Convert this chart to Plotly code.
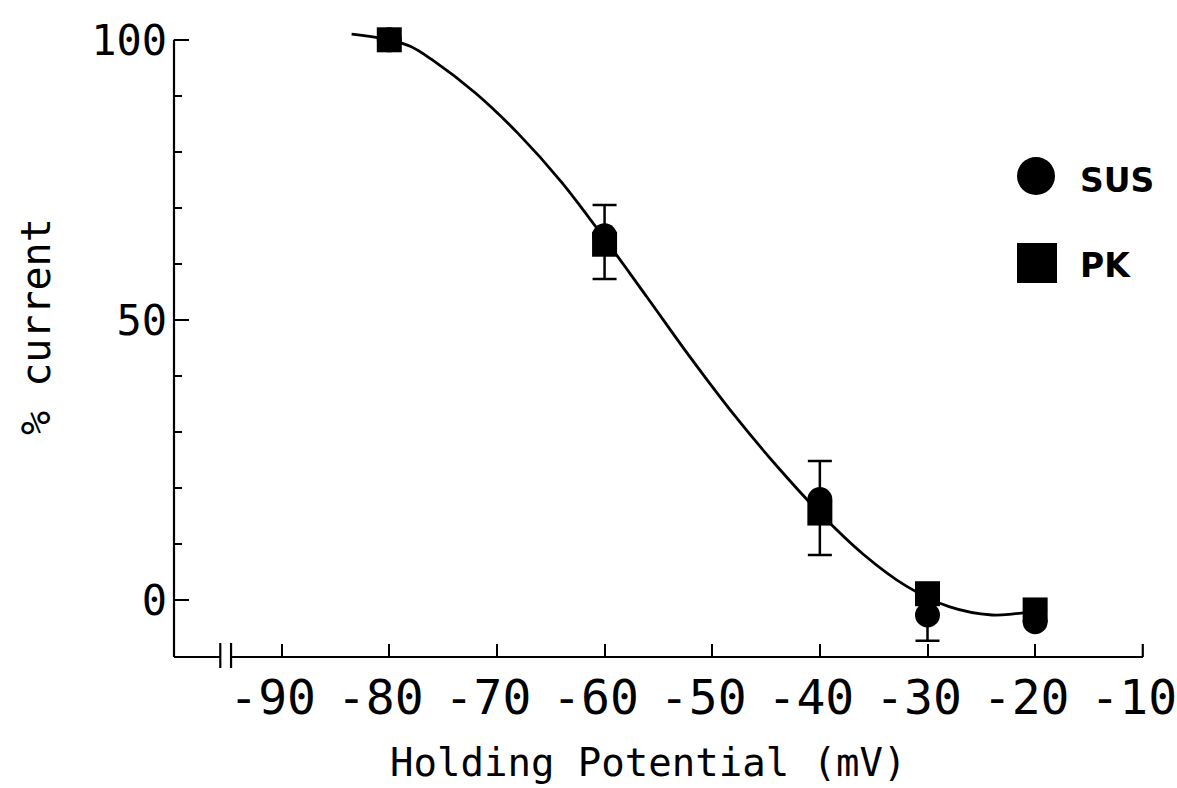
import plotly.graph_objects as go

# ---------------- data ----------------
voltage = [-80, -60, -40, -30, -20]
sus_current = [100.0, 65.0, 17.9, -2.7, -3.9]
sus_err = [0, 0, 0, 4.6, 0]
pk_current = [100.0, 63.5, 15.5, 1.1, -1.8]
pk_err_plus = [0, 7.0, 9.3, 0, 0]
pk_err_minus = [0, 6.2, 7.5, 0, 0]

fit_v = [-83.5, -80, -78, -76, -72, -68, -64, -60, -56, -52, -48, -44, -40,
         -36, -32, -28, -24, -22, -20.3]
fit_i = [101.0, 100.0, 98.8, 96.4, 90.5, 83.2, 74.6, 64.5, 53.9, 43.2, 33.1, 23.9, 15.5,
         8.2, 2.5, -1.2, -2.7, -2.5, -2.1]

x_ticks = [-90, -80, -70, -60, -50, -40, -30, -20, -10]
y_major = [0, 50, 100]
y_minor = [10, 20, 30, 40, 60, 70, 80, 90]

X_RANGE = [-100, -9.98]
Y_RANGE = [-10.2, 103]
Y_AXIS_TOP = 100
BREAK_AT = [-95.7, -94.7]

FONT_MONO = "DejaVu Sans Mono"

fig = go.Figure()

fig.add_trace(go.Scatter(x=fit_v, y=fit_i, mode="lines",
                         line=dict(color="black", width=2.8, shape="spline", smoothing=1.0),
                         hoverinfo="skip", showlegend=False))

fig.add_trace(go.Scatter(x=voltage, y=sus_current, mode="markers", name="SUS",
                         marker=dict(symbol="circle", size=25, color="black"),
                         error_y=dict(type="data", array=sus_err, color="black",
                                      thickness=2.5, width=12),
                         cliponaxis=False, showlegend=False))

fig.add_trace(go.Scatter(x=voltage, y=pk_current, mode="markers", name="PK",
                         marker=dict(symbol="square", size=25, color="black"),
                         error_y=dict(type="data", symmetric=False, array=pk_err_plus,
                                      arrayminus=pk_err_minus, color="black",
                                      thickness=2.5, width=12),
                         cliponaxis=False, showlegend=False))

L, R, T, B = 174, 34, 23, 131
W, H = 1177, 788
pw, ph = W - L - R, H - T - B


def px_x(p):
    return (p - L) / pw


def px_y(p):
    return (H - B - p) / ph


def data_x(v):
    return (v - X_RANGE[0]) / (X_RANGE[1] - X_RANGE[0])


def data_y(v):
    return (v - Y_RANGE[0]) / (Y_RANGE[1] - Y_RANGE[0])


shapes = []
line_style = dict(color="black", width=2.2)
# x axis line with break
shapes.append(dict(type="line", xref="paper", yref="paper", x0=0, x1=data_x(BREAK_AT[0]),
                   y0=0, y1=0, line=line_style))
shapes.append(dict(type="line", xref="paper", yref="paper", x0=data_x(BREAK_AT[1]), x1=1,
                   y0=0, y1=0, line=line_style))
for b in BREAK_AT:
    shapes.append(dict(type="line", xref="paper", yref="paper", x0=data_x(b), x1=data_x(b),
                       y0=-11 / ph, y1=14 / ph, line=line_style))
# last x tick at the right end of the axis
shapes.append(dict(type="line", xref="paper", yref="paper",
                   x0=data_x(x_ticks[-1]), x1=data_x(x_ticks[-1]),
                   y0=0, y1=13 / ph, line=line_style))
# y axis line
shapes.append(dict(type="line", xref="paper", yref="paper", x0=0, x1=0,
                   y0=0, y1=data_y(Y_AXIS_TOP), line=line_style))
# legend symbols
shapes.append(dict(type="circle", xref="paper", yref="paper",
                   x0=px_x(1017), x1=px_x(1055), y0=px_y(195), y1=px_y(157),
                   fillcolor="black", line=dict(color="black", width=0)))
shapes.append(dict(type="rect", xref="paper", yref="paper",
                   x0=px_x(1017), x1=px_x(1057), y0=px_y(283), y1=px_y(243),
                   fillcolor="black", line=dict(color="black", width=0)))

annotations = [
    dict(text="SUS", xref="paper", yref="paper", x=px_x(1078), y=px_y(180),
         xanchor="left", yanchor="middle", showarrow=False,
         font=dict(family="DejaVu Sans", size=33, color="black", weight="bold")),
    dict(text="PK", xref="paper", yref="paper", x=px_x(1078), y=px_y(265),
         xanchor="left", yanchor="middle", showarrow=False,
         font=dict(family="DejaVu Sans", size=33, color="black", weight="bold")),
    dict(text="Holding Potential (mV)", xref="paper", yref="paper",
         x=px_x(648), y=px_y(762), xanchor="center", yanchor="middle", showarrow=False,
         font=dict(family=FONT_MONO, size=39, color="black")),
    dict(text="% current", xref="paper", yref="paper",
         x=px_x(36), y=px_y(327), xanchor="center", yanchor="middle", showarrow=False,
         textangle=-90, font=dict(family=FONT_MONO, size=40, color="black")),
]

fig.update_layout(
    width=W, height=H,
    margin=dict(l=L, r=R, t=T, b=B, pad=0, autoexpand=False),
    paper_bgcolor="white", plot_bgcolor="white",
    shapes=shapes, annotations=annotations,
    showlegend=False,
    xaxis=dict(range=X_RANGE, showline=False, showgrid=False, zeroline=False,
               automargin=False, ticklabeloverflow="allow",
               tickmode="array", tickvals=x_ticks, ticktext=[str(v) for v in x_ticks],
               ticks="inside", ticklen=13, tickwidth=2.2, tickcolor="black",
               ticklabelshift=-9, ticklabelstandoff=8,
               tickfont=dict(family=FONT_MONO, size=48, color="black")),
    yaxis=dict(range=Y_RANGE, showline=False, showgrid=False, zeroline=False,
               automargin=False,
               tickmode="array", tickvals=y_major, ticktext=[str(v) for v in y_major],
               ticks="inside", ticklen=15, tickwidth=2.2, tickcolor="black",
               ticklabelstandoff=6,
               tickfont=dict(family=FONT_MONO, size=42, color="black"),
               minor=dict(tickmode="array", tickvals=y_minor, ticks="inside",
                          ticklen=8, tickwidth=2.2, tickcolor="black")),
)

fig.write_html("out.html", config={"displayModeBar": False},
               post_script="document.body.style.margin='0';document.body.style.overflow='hidden';")
